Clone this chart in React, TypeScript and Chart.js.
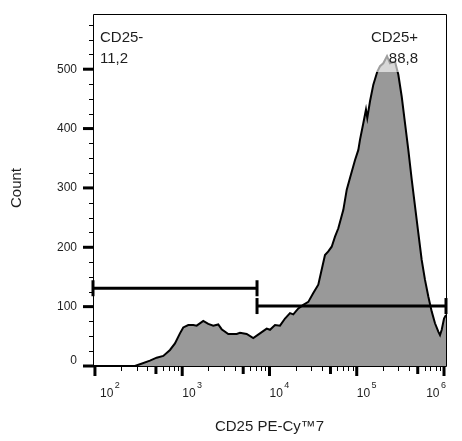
import { useEffect, useRef } from "react";
import { Chart, registerables } from "chart.js";

Chart.register(...registerables);

// ---- Data ----
const cd25Values = [
  95, 287, 328, 427, 509, 607, 724, 826, 942, 1028, 1173, 1339, 1465, 1743, 1989,
  2269, 2589, 2831, 3372, 4208, 4591, 5479, 6520, 7780, 9290, 10140, 11570, 13200,
  15060, 17180, 18750, 21400, 24400, 27860, 31780, 36260, 39620, 43260, 47210,
  51640, 56360, 61500, 70200, 76800, 83800, 95600, 104300, 108900, 118900, 127600,
  132100, 141900, 154900, 172100, 184800, 201500, 222300, 240600, 274400, 299500,
  327500, 357300, 390000, 426700, 465500, 508000, 554600, 605700, 661000, 722500,
  788400, 861000, 900000, 941500, 1000000, 1054000,
];
const counts = [
  0, 0, 3, 9, 14, 17, 27, 38, 55, 65, 69, 69, 68, 76, 71,
  68, 70, 62, 54, 54, 56, 54, 47, 55, 63, 61, 69, 68,
  80, 89, 87, 97, 103, 108, 123, 137, 162, 187, 193,
  201, 218, 232, 263, 297, 317, 347, 364, 381, 409, 432,
  418, 446, 474, 496, 505, 510, 522, 510, 513, 491,
  454, 409, 364, 314, 269, 224, 179, 145, 117, 92,
  72, 58, 52, 61, 80, 86,
];

const gateNames = ["CD25-", "CD25+"];
const gatePercents = ["11,2", "88,8"];
const gateFrom = [95, 7200];
const gateTo = [7200, 1054000];
const gateLevel = [131, 101];

const xMin = 95;
const xMax = 1054000;
const yMin = 0;
const yMax = 593;

const xDecades = [100, 1000, 10000, 100000, 1000000];
const xDecadeExponents = ["2", "3", "4", "5", "6"];
const xMultipliers = [1, 2, 3, 4, 5, 6, 7, 8, 9];
const yMajorTicks = [0, 100, 200, 300, 400, 500];
const yMinorTicks = [25, 50, 75, 125, 150, 175, 225, 250, 275, 325, 350, 375, 425, 450, 475, 525, 550, 575];

const xTitle = "CD25 PE-Cy\u21227";
const yTitle = "Count";

const FONT = "Arial, 'Liberation Sans', Helvetica, sans-serif";
const TEXT = "#1e1e1e";

const flowAxes = {
  id: "flowAxes",
  afterDatasetsDraw(chart: any) {
    const { ctx, chartArea: a, scales } = chart;
    const x = scales.x;
    const y = scales.y;
    ctx.save();

    // translucent label box behind the CD25+ annotation
    ctx.fillStyle = "rgba(255,255,255,0.62)";
    ctx.fillRect(a.right - 80, a.top + 8, 58, 50);

    // frame
    ctx.strokeStyle = "#000";
    ctx.lineWidth = 1;
    ctx.beginPath();
    ctx.moveTo(a.left + 0.5, a.top + 0.5);
    ctx.lineTo(a.right + 0.5, a.top + 0.5);
    ctx.lineTo(a.right + 0.5, a.bottom + 0.5);
    ctx.lineTo(a.left + 0.5, a.bottom + 0.5);
    ctx.closePath();
    ctx.stroke();

    // y ticks
    ctx.lineCap = "butt";
    yMinorTicks.forEach((v) => {
      const py = Math.round(y.getPixelForValue(v)) + 0.5;
      ctx.lineWidth = 1;
      ctx.beginPath();
      ctx.moveTo(a.left - 4, py);
      ctx.lineTo(a.left, py);
      ctx.stroke();
    });
    yMajorTicks.forEach((v) => {
      const py = y.getPixelForValue(v);
      ctx.lineWidth = 3;
      ctx.beginPath();
      ctx.moveTo(a.left - 10, py);
      ctx.lineTo(a.left + 1, py);
      ctx.stroke();
    });

    // y labels
    ctx.fillStyle = TEXT;
    ctx.font = `12px ${FONT}`;
    ctx.textAlign = "right";
    ctx.textBaseline = "middle";
    yMajorTicks.forEach((v) => {
      const py = Math.min(y.getPixelForValue(v), a.bottom - 5);
      ctx.fillText(String(v), a.left - 16, py);
    });

    // x ticks
    xDecades.concat([10]).forEach((dec) => {
      xMultipliers.forEach((m) => {
        const v = m * dec;
        if (v < xMin || v > xMax) return;
        const px = x.getPixelForValue(v);
        let w = 1, len = 5;
        if (m === 1) { w = 3; len = 10; }
        else if (m === 5) { w = 3; len = 8; }
        ctx.lineWidth = w;
        ctx.beginPath();
        const xx = w === 1 ? Math.round(px) + 0.5 : px;
        ctx.moveTo(xx, a.bottom);
        ctx.lineTo(xx, a.bottom + len);
        ctx.stroke();
      });
    });

    // x labels (10 with superscript exponent)
    ctx.textAlign = "left";
    ctx.textBaseline = "alphabetic";
    xDecades.forEach((dec, i) => {
      const px = x.getPixelForValue(dec);
      ctx.font = `12px ${FONT}`;
      const baseW = ctx.measureText("10").width;
      ctx.font = `9px ${FONT}`;
      const expW = ctx.measureText(xDecadeExponents[i]).width;
      const total = baseW + 1.5 + expW;
      let left = px;
      if (left < a.left + 7) left = a.left + 7;
      if (left + total > a.right) left = a.right - total;
      ctx.font = `12px ${FONT}`;
      ctx.fillText("10", left, a.bottom + 31);
      ctx.font = `9px ${FONT}`;
      ctx.fillText(xDecadeExponents[i], left + baseW + 1.5, a.bottom + 22);
    });

    // axis titles
    ctx.font = `15px ${FONT}`;
    ctx.textAlign = "center";
    ctx.fillText(xTitle, (a.left + a.right) / 2, a.bottom + 65);
    ctx.save();
    ctx.translate(21, (a.top + a.bottom) / 2 - 2);
    ctx.rotate(-Math.PI / 2);
    ctx.fillText(yTitle, 0, 0);
    ctx.restore();

    // gate annotations
    ctx.font = `15px ${FONT}`;
    ctx.textAlign = "left";
    ctx.fillText(gateNames[0], a.left + 7, a.top + 28);
    ctx.fillText(gatePercents[0], a.left + 7, a.top + 49);
    ctx.textAlign = "right";
    ctx.fillText(gateNames[1], a.right - 28, a.top + 28);
    ctx.fillText(gatePercents[1], a.right - 28, a.top + 49);

    ctx.restore();
  },
};

export default function App() {
  const ref = useRef<HTMLCanvasElement>(null);
  useEffect(() => {
    const histogram = cd25Values.map((v, i) => ({ x: v, y: counts[i] }));
    const gateSets = gateNames.map((name, i) => ({
      label: name,
      data: [
        { x: gateFrom[i], y: gateLevel[i] },
        { x: gateTo[i], y: gateLevel[i] },
      ],
      borderColor: "#000",
      borderWidth: 3,
      fill: false,
      pointStyle: "line",
      rotation: 90,
      pointRadius: 8,
      pointBorderWidth: 3,
      pointBorderColor: "#000",
      pointBackgroundColor: "#000",
      clip: false,
      order: 0,
    }));
    const chart = new Chart(ref.current!, {
      type: "line",
      data: {
        datasets: [
          {
            label: "CD25",
            data: histogram,
            borderColor: "#000",
            borderWidth: 2,
            backgroundColor: "#999999",
            fill: "origin",
            pointRadius: 0,
            tension: 0,
            order: 1,
          },
          ...(gateSets as any),
        ],
      },
      options: {
        animation: false,
        responsive: false,
        devicePixelRatio: 1,
        layout: { padding: { left: 93, top: 14, right: 16, bottom: 75 } },
        plugins: { legend: { display: false }, tooltip: { enabled: false } },
        scales: {
          x: { type: "logarithmic", min: xMin, max: xMax, display: false },
          y: { type: "linear", min: yMin, max: yMax, display: false },
        },
      },
      plugins: [flowAxes],
    } as any);
    return () => chart.destroy();
  }, []);
  return (
    <div style={{ position: "fixed", left: 0, top: 0, width: 462, height: 441, background: "#fff" }}>
      <canvas ref={ref} width={462} height={441} style={{ display: "block", width: 462, height: 441 }} />
    </div>
  );
}
